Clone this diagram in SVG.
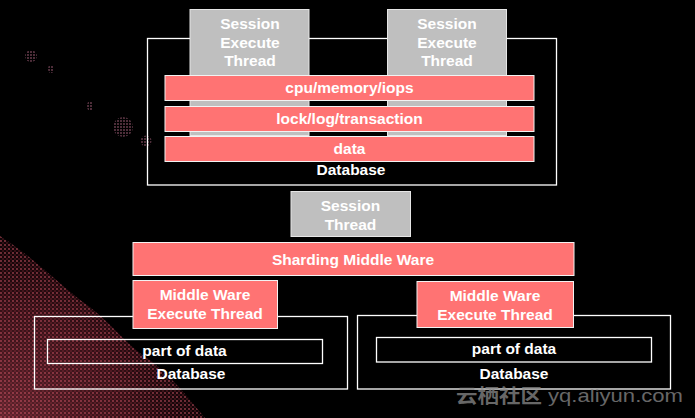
<svg xmlns="http://www.w3.org/2000/svg" width="695" height="418" viewBox="0 0 695 418">
<defs>
<style>
.t{font-family:"Liberation Sans",Arial,sans-serif;font-weight:700;font-size:15.5px;fill:#ffffff;text-anchor:middle;dominant-baseline:central}
.gray{fill:#bfbfbf;stroke:#e6e6e6;stroke-width:1}
.red{fill:#ff7373;stroke:#f2f2f2;stroke-width:1}
.frame{fill:none;stroke:#ffffff;stroke-width:1.3}
.wm{font-size:19px;fill:#8a8a8a;opacity:0.75}
</style>
<radialGradient id="spray" cx="0" cy="1" r="1">
<stop offset="0" stop-color="#c0485a" stop-opacity="0.9"/>
<stop offset="0.6" stop-color="#8a2a3a" stop-opacity="0.7"/>
<stop offset="1" stop-color="#4a121c" stop-opacity="0.3"/>
</radialGradient>
<pattern id="dots" width="4" height="4" patternUnits="userSpaceOnUse">
<rect width="4" height="4" fill="#000"/>
<circle cx="1" cy="1" r="0.9" fill="#d45a6c"/>
<circle cx="3" cy="3" r="0.7" fill="#9a3242"/>
</pattern>
<pattern id="specks" width="3" height="3" patternUnits="userSpaceOnUse">
<circle cx="1" cy="1" r="0.8" fill="#d0789a"/>
</pattern>
</defs>
<rect width="695" height="418" fill="#000"/>
<g id="background-spray">
<path d="M0,236 C30,255 55,280 80,300 C110,320 125,345 150,360 C175,380 190,400 205,418 L0,418 Z" fill="url(#dots)" opacity="0.8"/>
<path d="M0,236 C30,255 55,280 80,300 C110,320 125,345 150,360 C175,380 190,400 205,418 L0,418 Z" fill="url(#spray)" opacity="0.55"/>
<g fill="url(#specks)" opacity="0.85">
<circle cx="31" cy="56" r="6"/>
<ellipse cx="51" cy="69" rx="3" ry="4"/>
<ellipse cx="90" cy="106" rx="3" ry="5"/>
<circle cx="123" cy="127" r="10"/>
<circle cx="146" cy="141" r="5.5"/>
</g>
</g>
<g id="db-top">
<rect class="frame" x="147.5" y="38.5" width="409" height="146.5"/>
<text class="t" x="351" y="169">Database</text>
</g>
<g id="session-exec-1">
<rect class="gray" x="190" y="9.5" width="119" height="126"/>
<text class="t" x="250" y="23">Session</text>
<text class="t" x="250" y="42">Execute</text>
<text class="t" x="250" y="60">Thread</text>
</g>
<g id="session-exec-2">
<rect class="gray" x="387.5" y="9.5" width="119" height="126"/>
<text class="t" x="447" y="23">Session</text>
<text class="t" x="447" y="42">Execute</text>
<text class="t" x="447" y="60">Thread</text>
</g>
<g id="cpu">
<rect class="red" x="165" y="75.5" width="369" height="25"/>
<text class="t" x="349.5" y="87.5">cpu/memory/iops</text>
</g>
<g id="lock">
<rect class="red" x="165" y="106.5" width="369" height="25"/>
<text class="t" x="349.5" y="118">lock/log/transaction</text>
</g>
<g id="data">
<rect class="red" x="165" y="136.5" width="369" height="25"/>
<text class="t" x="349.5" y="148">data</text>
</g>
<g id="session-thread">
<rect class="gray" x="291" y="191.5" width="119.5" height="45"/>
<text class="t" x="350.5" y="205">Session</text>
<text class="t" x="350.5" y="224">Thread</text>
</g>
<g id="sharding">
<rect class="red" x="133" y="242.5" width="441" height="33"/>
<text class="t" x="353" y="259.5">Sharding Middle Ware</text>
</g>
<g id="db-left">
<rect class="frame" x="34.5" y="316.5" width="313" height="72.5"/>
<rect class="frame" x="47.5" y="339.5" width="275" height="24"/>
<text class="t" x="184.5" y="350">part of data</text>
<text class="t" x="191" y="373">Database</text>
</g>
<g id="db-right">
<rect class="frame" x="357.5" y="315.5" width="313" height="73.5"/>
<rect class="frame" x="376.5" y="337.5" width="275" height="24.5"/>
<text class="t" x="514" y="348">part of data</text>
<text class="t" x="514" y="373">Database</text>
</g>
<g id="mw-left">
<rect class="red" x="133" y="280.5" width="144.5" height="48"/>
<text class="t" x="205" y="294.5">Middle Ware</text>
<text class="t" x="205" y="313">Execute Thread</text>
</g>
<g id="mw-right">
<rect class="red" x="417" y="281.5" width="156.5" height="46"/>
<text class="t" x="495" y="295">Middle Ware</text>
<text class="t" x="495" y="314">Execute Thread</text>
</g>
<g id="connectors"></g>
<g id="watermark">
<text class="wm" x="456" y="403" font-weight="700" font-family="Noto Sans CJK SC, sans-serif" textLength="86" lengthAdjust="spacingAndGlyphs">云栖社区</text>
<text class="wm" x="548" y="402" font-family="Liberation Sans, sans-serif" textLength="135" lengthAdjust="spacingAndGlyphs">yq.aliyun.com</text>
</g>
</svg>
